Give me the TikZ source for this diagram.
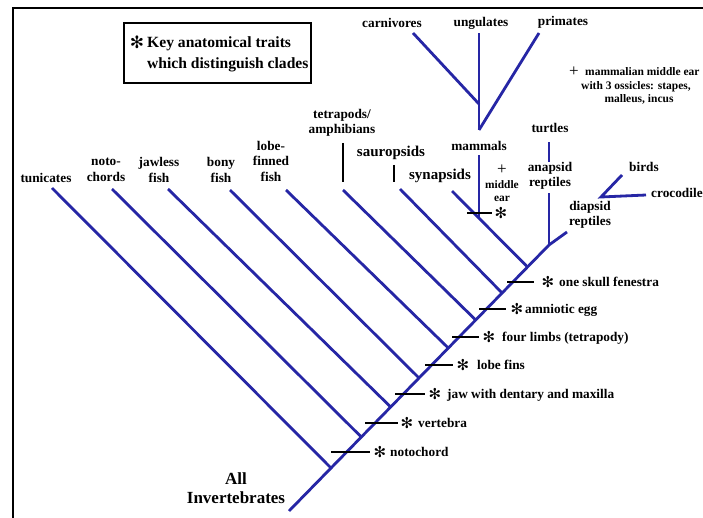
\documentclass[tikz,border=0pt]{standalone}
\usepackage{fontspec}
\setmainfont{Liberation Serif}
\newfontfamily\dingfont{DejaVu Sans}
\definecolor{treeblue}{RGB}{38,38,165}
\begin{document}
\begin{tikzpicture}[x=1pt,y=-1pt,
  branch/.style={draw=treeblue,line width=2.8pt},
  marker/.style={draw=black,line width=2.4pt},
  lab/.style={font=\bfseries\fontsize{13.3}{15.5}\selectfont,align=center,inner sep=0pt},
  biglab/.style={font=\bfseries\fontsize{15}{17}\selectfont,align=center,inner sep=0pt},
  traitlab/.style={font=\bfseries\fontsize{13.3}{15}\selectfont,anchor=base west,inner sep=0pt},
  smalllab/.style={font=\bfseries\fontsize{11.4}{13}\selectfont,align=center,inner sep=0pt},
  notelab/.style={font=\bfseries\fontsize{11.5}{13}\selectfont,inner sep=0pt},
  star/.style={font=\dingfont\fontsize{15}{15}\selectfont,inner sep=0pt},
  plus/.style={font=\fontsize{17}{17}\selectfont,inner sep=0pt}]

\useasboundingbox (0,0) rectangle (703,518);
\clip (0,0) rectangle (703,518);
\fill[white] (0,0) rectangle (703,518);

% outer frame
\draw[line width=2.5pt] (13,8) rectangle (730,540);

% legend box
\node[draw,line width=1.4pt,minimum width=187pt,minimum height=60pt,inner sep=0pt] (legend) at (217.5,53) {};
\node[star,font=\dingfont\fontsize{17}{17}\selectfont] (legstar) at (137,42) {✻};
\node[traitlab,font=\bfseries\fontsize{15.6}{17}\selectfont] (legA) at (147,47.5) {Key anatomical traits};
\node[traitlab,font=\bfseries\fontsize{15.6}{17}\selectfont] (legB) at (147,68.5) {which distinguish clades};

% main trunk and its junctions
\coordinate (root) at (289,511);
\coordinate (jTun) at (331,468);
\coordinate (jNoto) at (361.3,437);
\coordinate (jJaw) at (390.7,407);
\coordinate (jBony) at (419,378);
\coordinate (jLobe) at (448.3,348);
\coordinate (jTetra) at (475.7,320);
\coordinate (jSauro) at (502.1,293);
\coordinate (jSyn) at (527.5,267);
\coordinate (apex) at (549,245);
\coordinate (diaEnd) at (567,232);

% branch tips
\coordinate (tTun) at (52,188);
\coordinate (tNoto) at (112,189);
\coordinate (tJaw) at (168,189);
\coordinate (tBony) at (230,190);
\coordinate (tLobe) at (286,190);
\coordinate (tTetra) at (343,190);
\coordinate (tSauro) at (400,189);
\coordinate (tSyn) at (452,191);

\draw[branch] (root) -- (apex) -- (diaEnd);
\draw[branch] (jTun) -- (tTun);
\draw[branch] (jNoto) -- (tNoto);
\draw[branch] (jJaw) -- (tJaw);
\draw[branch] (jBony) -- (tBony);
\draw[branch] (jLobe) -- (tLobe);
\draw[branch] (jTetra) -- (tTetra);
\draw[branch] (jSauro) -- (tSauro);
\draw[branch] (jSyn) -- (tSyn);

% mammals and their subgroups
\coordinate (jMam) at (479,218);
\coordinate (mamTop) at (479,155);
\coordinate (ungBase) at (479,130);
\coordinate (ungTop) at (479,33);
\coordinate (carnJoin) at (479,104);
\coordinate (carnTop) at (413,33);
\coordinate (primTop) at (539,33);
\draw[branch] (jMam) -- (mamTop);
\draw[branch] (ungBase) -- (ungTop);
\draw[branch] (carnJoin) -- (carnTop);
\draw[branch] (ungBase) -- (primTop);

% anapsid reptiles and turtles
\coordinate (anaTop) at (549,193);
\coordinate (turBase) at (549,162);
\coordinate (turTop) at (549,142);
\draw[branch] (apex) -- (anaTop);
\draw[branch] (turBase) -- (turTop);

% birds and crocodiles
\coordinate (archo) at (601,197);
\coordinate (birdTip) at (622,175);
\coordinate (crocTip) at (646,195);
\draw[branch] (birdTip) -- (archo) -- (crocTip);

% black stems under two labels
\draw[line width=1.8pt] (343,143) -- (343,182);
\draw[line width=1.8pt] (394,165) -- (394,182);

% clade labels
\node[lab] (lTun) at (46,178) {tunicates};
\node[lab] (lNoto) at (106,170) {noto-\\chords};
\node[lab] (lJaw) at (159,170) {jawless\\fish};
\node[lab] (lBony) at (221,170) {bony\\fish};
\node[lab] (lLobe) at (271,161) {lobe-\\finned\\fish};
\node[lab] (lTetra) at (342,123) {tetrapods/\\amphibians};
\node[biglab] (lSauro) at (391,153) {sauropsids};
\node[biglab] (lSyn) at (440,176) {synapsids};
\node[lab] (lMam) at (479,146) {mammals};
\node[lab] (lCarn) at (392,23) {carnivores};
\node[lab] (lUng) at (481,23) {ungulates};
\node[lab] (lPrim) at (563,22) {primates};
\node[lab] (lTur) at (550,128) {turtles};
\node[lab] (lAna) at (550,176) {anapsid\\reptiles};
\node[lab] (lDia) at (590,215) {diapsid\\reptiles};
\node[lab] (lBird) at (644,167) {birds};
\node[lab,anchor=mid west] (lCroc) at (651,195) {crocodile};
\node[lab,font=\bfseries\fontsize{17}{19}\selectfont] (lAll) at (236,488) {All\\Invertebrates};

% middle ear note
\node[plus] (earPlus) at (502,170) {+};
\node[smalllab] (earLab) at (502,191) {middle\\ear};
\node[plus] (mmePlus) at (574,72) {+};
\node[notelab,anchor=base west] (mmeA) at (585,76) {mammalian middle ear};
\node[notelab,anchor=base] (mmeB) at (636,89.5) {with 3 ossicles: stapes,};
\node[notelab,anchor=base] (mmeC) at (639,102.5) {malleus, incus};

% mammal middle-ear marker
\draw[marker] (467,213) -- (492,213);
\node[star] (sMam) at (501,213) {✻};

% key traits along the trunk
\draw[marker] (507,282) -- (534,282);
\node[star] (sFen) at (548,282) {✻};
\node[traitlab] (tFen) at (559,286.5) {one skull fenestra};

\draw[marker] (479,309) -- (506,309);
\node[star] (sEgg) at (517,309) {✻};
\node[traitlab] (tEgg) at (525,313.5) {amniotic egg};

\draw[marker] (452,337) -- (479,337);
\node[star] (sLimb) at (489,337) {✻};
\node[traitlab] (tLimb) at (502,341.5) {four limbs (tetrapody)};

\draw[marker] (425,365) -- (453,365);
\node[star] (sLobe) at (463,365) {✻};
\node[traitlab] (tLobeF) at (477,369.5) {lobe fins};

\draw[marker] (395,394) -- (425,394);
\node[star] (sJaw) at (435,394) {✻};
\node[traitlab] (tJawD) at (447,398.5) {jaw with dentary and maxilla};

\draw[marker] (365,423) -- (398,423);
\node[star] (sVert) at (407,423) {✻};
\node[traitlab] (tVert) at (418,427.5) {vertebra};

\draw[marker] (331,452) -- (370,452);
\node[star] (sNoto) at (380,452) {✻};
\node[traitlab] (tNotoC) at (390,456.5) {notochord};
\end{tikzpicture}
\end{document}
